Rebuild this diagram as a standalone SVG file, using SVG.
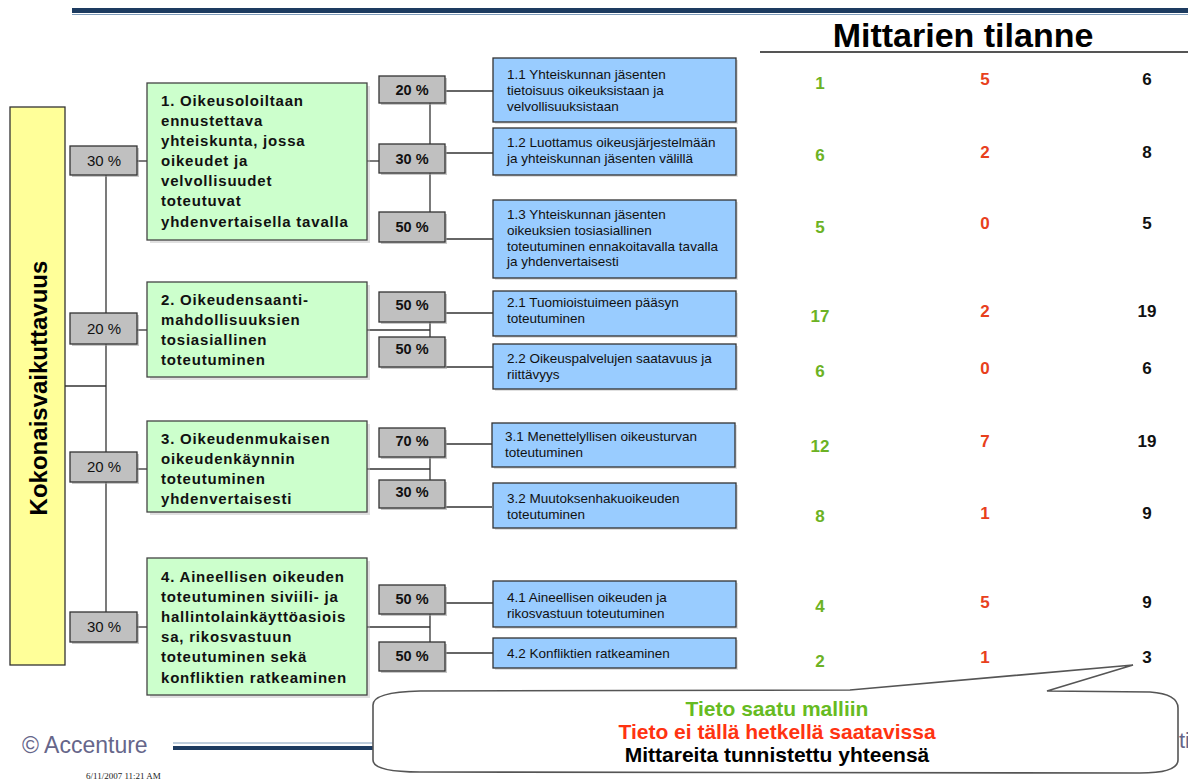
<svg xmlns="http://www.w3.org/2000/svg" width="1188" height="782" viewBox="0 0 1188 782">
<style>
text{font-family:"Liberation Sans",Arial,sans-serif}
.yel{fill:#ffff99;stroke:#333;stroke-width:1.3}
.grn{fill:#ccffcc;stroke:#444;stroke-width:1.3}
.blu{fill:#99ccff;stroke:#333;stroke-width:1.3}
.pct{fill:#c0c0c0;stroke:#333;stroke-width:1.3}
.sh{fill:#9a9a9a;opacity:0.55}
.shl{fill:#bbbbbb;opacity:0.45}
.gt{font-size:15px;font-weight:bold;letter-spacing:0.8px;fill:#111}
.bt{font-size:13.5px;fill:#111}
.pr{font-size:14.5px;font-weight:bold;text-anchor:middle;fill:#111}
.pl{font-size:15px;text-anchor:middle;fill:#111}
.con line{stroke:#333;stroke-width:1.3}
.n{font-size:17px;font-weight:bold;text-anchor:middle}
.ng{fill:#6cb224}
.nr{fill:#e8401c}
.nk{fill:#111}
.ct{font-size:21px;font-weight:bold;text-anchor:middle}
</style>

<!-- header rule -->
<rect x="72" y="8" width="1116" height="5" fill="#1d3b60"/>
<line x1="72" y1="14.5" x2="1188" y2="14.5" stroke="#7f9cba" stroke-width="1"/>

<!-- table header -->
<g id="header">
<text x="963" y="47" font-size="34" font-weight="bold" text-anchor="middle" fill="#000">Mittarien tilanne</text>
<line x1="760" y1="52" x2="1188" y2="52" stroke="#555" stroke-width="2"/>
</g>

<!-- connectors -->
<g id="connectors" class="con">
<line x1="65" y1="386" x2="106" y2="386"/>
<line x1="106" y1="175" x2="106" y2="313"/>
<line x1="106" y1="344" x2="106" y2="452"/>
<line x1="106" y1="482" x2="106" y2="612"/>
<line x1="137" y1="161" x2="147" y2="161"/>
<line x1="137" y1="330" x2="147" y2="330"/>
<line x1="137" y1="469" x2="147" y2="469"/>
<line x1="137" y1="627" x2="147" y2="627"/>
<line x1="367" y1="161" x2="380" y2="161"/>
<line x1="430" y1="103" x2="430" y2="144"/>
<line x1="430" y1="173" x2="430" y2="212"/>
<line x1="446" y1="91" x2="493" y2="91"/>
<line x1="446" y1="153" x2="493" y2="153"/>
<line x1="446" y1="239" x2="493" y2="239"/>
<line x1="367" y1="330" x2="430" y2="330"/>
<line x1="430" y1="322" x2="430" y2="337"/>
<line x1="446" y1="313" x2="493" y2="313"/>
<line x1="446" y1="367" x2="493" y2="367"/>
<line x1="367" y1="469" x2="430" y2="469"/>
<line x1="430" y1="457" x2="430" y2="480"/>
<line x1="446" y1="444" x2="492" y2="444"/>
<line x1="446" y1="507" x2="492" y2="507"/>
<line x1="367" y1="627" x2="430" y2="627"/>
<line x1="430" y1="614" x2="430" y2="642"/>
<line x1="446" y1="603" x2="493" y2="603"/>
<line x1="446" y1="653" x2="493" y2="653"/>
</g>

<!-- root -->
<g id="root">
<rect class="yel" x="10" y="107" width="55" height="558"/>
<text transform="translate(47,388) rotate(-90)" font-size="24" font-weight="bold" text-anchor="middle" fill="#000">Kokonaisvaikuttavuus</text>
</g>

<!-- left percentage boxes -->
<g id="p1"><rect class="sh" x="72" y="148" width="67" height="29"/><rect class="pct" x="70" y="146" width="67" height="29"/><text class="pl" x="104" y="166">30  %</text></g>
<g id="p2"><rect class="sh" x="72" y="315" width="67" height="31"/><rect class="pct" x="70" y="313" width="67" height="31"/><text class="pl" x="104" y="334">20  %</text></g>
<g id="p3"><rect class="sh" x="72" y="454" width="67" height="30"/><rect class="pct" x="70" y="452" width="67" height="30"/><text class="pl" x="104" y="472">20  %</text></g>
<g id="p4"><rect class="sh" x="72" y="614" width="67" height="30"/><rect class="pct" x="70" y="612" width="67" height="30"/><text class="pl" x="104" y="632">30  %</text></g>

<!-- green boxes -->
<g id="g1">
<rect class="shl" x="150" y="86" width="220" height="157"/>
<rect class="grn" x="147" y="83" width="220" height="157"/>
<text class="gt"><tspan x="161" y="106">1. Oikeusoloiltaan</tspan><tspan x="161" y="126">ennustettava</tspan><tspan x="161" y="146">yhteiskunta, jossa</tspan><tspan x="161" y="166">oikeudet ja</tspan><tspan x="161" y="186">velvollisuudet</tspan><tspan x="161" y="206">toteutuvat</tspan><tspan x="161" y="227">yhdenvertaisella tavalla</tspan></text>
</g>
<g id="g2">
<rect class="shl" x="150" y="285" width="220" height="95"/>
<rect class="grn" x="147" y="282" width="220" height="95"/>
<text class="gt"><tspan x="161" y="305">2. Oikeudensaanti-</tspan><tspan x="161" y="325">mahdollisuuksien</tspan><tspan x="161" y="345">tosiasiallinen</tspan><tspan x="161" y="365">toteutuminen</tspan></text>
</g>
<g id="g3">
<rect class="shl" x="150" y="424" width="220" height="91"/>
<rect class="grn" x="147" y="421" width="220" height="91"/>
<text class="gt"><tspan x="161" y="444">3. Oikeudenmukaisen</tspan><tspan x="161" y="464">oikeudenkäynnin</tspan><tspan x="161" y="484">toteutuminen</tspan><tspan x="161" y="504">yhdenvertaisesti</tspan></text>
</g>
<g id="g4">
<rect class="shl" x="150" y="561" width="220" height="137"/>
<rect class="grn" x="147" y="558" width="220" height="137"/>
<text class="gt"><tspan x="161" y="582">4. Aineellisen oikeuden</tspan><tspan x="161" y="602">toteutuminen siviili- ja</tspan><tspan x="161" y="622">hallintolainkäyttöasiois</tspan><tspan x="161" y="642">sa, rikosvastuun</tspan><tspan x="161" y="662">toteutuminen sekä</tspan><tspan x="161" y="683">konfliktien ratkeaminen</tspan></text>
</g>

<!-- right percentage boxes -->
<g id="p11"><rect class="sh" x="381" y="78" width="66" height="27"/><rect class="pct" x="379" y="76" width="66" height="27"/><text class="pr" x="412" y="95">20  %</text></g>
<g id="p12"><rect class="sh" x="381" y="146" width="66" height="29"/><rect class="pct" x="379" y="144" width="66" height="29"/><text class="pr" x="412" y="164">30  %</text></g>
<g id="p13"><rect class="sh" x="381" y="214" width="66" height="30"/><rect class="pct" x="379" y="212" width="66" height="30"/><text class="pr" x="412" y="232">50  %</text></g>
<g id="p21"><rect class="sh" x="381" y="294" width="66" height="30"/><rect class="pct" x="379" y="292" width="66" height="30"/><text class="pr" x="412" y="310">50  %</text></g>
<g id="p22"><rect class="sh" x="381" y="339" width="66" height="30"/><rect class="pct" x="379" y="337" width="66" height="30"/><text class="pr" x="412" y="354">50  %</text></g>
<g id="p31"><rect class="sh" x="381" y="430" width="66" height="29"/><rect class="pct" x="379" y="428" width="66" height="29"/><text class="pr" x="412" y="446">70  %</text></g>
<g id="p32"><rect class="sh" x="381" y="482" width="66" height="28"/><rect class="pct" x="379" y="480" width="66" height="28"/><text class="pr" x="412" y="497">30  %</text></g>
<g id="p41"><rect class="sh" x="381" y="587" width="66" height="29"/><rect class="pct" x="379" y="585" width="66" height="29"/><text class="pr" x="412" y="604">50  %</text></g>
<g id="p42"><rect class="sh" x="381" y="644" width="66" height="29"/><rect class="pct" x="379" y="642" width="66" height="29"/><text class="pr" x="412" y="661">50  %</text></g>

<!-- blue boxes -->
<g id="b11"><rect class="shl" x="495" y="60" width="243" height="64"/><rect class="blu" x="493" y="58" width="243" height="64"/>
<text class="bt"><tspan x="507" y="79">1.1 Yhteiskunnan jäsenten</tspan><tspan x="507" y="95">tietoisuus oikeuksistaan ja</tspan><tspan x="507" y="111">velvollisuuksistaan</tspan></text></g>
<g id="b12"><rect class="shl" x="495" y="130" width="243" height="47"/><rect class="blu" x="493" y="128" width="243" height="47"/>
<text class="bt"><tspan x="507" y="147">1.2 Luottamus oikeusjärjestelmään</tspan><tspan x="507" y="163">ja yhteiskunnan jäsenten välillä</tspan></text></g>
<g id="b13"><rect class="shl" x="495" y="202" width="243" height="78"/><rect class="blu" x="493" y="200" width="243" height="78"/>
<text class="bt"><tspan x="507" y="219">1.3 Yhteiskunnan jäsenten</tspan><tspan x="507" y="235">oikeuksien tosiasiallinen</tspan><tspan x="507" y="251">toteutuminen ennakoitavalla tavalla</tspan><tspan x="507" y="266">ja yhdenvertaisesti</tspan></text></g>
<g id="b21"><rect class="shl" x="495" y="293" width="243" height="45"/><rect class="blu" x="493" y="291" width="243" height="45"/>
<text class="bt"><tspan x="507" y="307">2.1 Tuomioistuimeen pääsyn</tspan><tspan x="507" y="323">toteutuminen</tspan></text></g>
<g id="b22"><rect class="shl" x="495" y="346" width="243" height="45"/><rect class="blu" x="493" y="344" width="243" height="45"/>
<text class="bt"><tspan x="507" y="363">2.2 Oikeuspalvelujen saatavuus ja</tspan><tspan x="507" y="379">riittävyys</tspan></text></g>
<g id="b31"><rect class="shl" x="494" y="425" width="243" height="44"/><rect class="blu" x="492" y="423" width="243" height="44"/>
<text class="bt"><tspan x="505" y="441">3.1 Menettelyllisen oikeusturvan</tspan><tspan x="505" y="457">toteutuminen</tspan></text></g>
<g id="b32"><rect class="shl" x="495" y="485" width="243" height="45"/><rect class="blu" x="493" y="483" width="243" height="45"/>
<text class="bt"><tspan x="507" y="503">3.2 Muutoksenhakuoikeuden</tspan><tspan x="507" y="519">toteutuminen</tspan></text></g>
<g id="b41"><rect class="shl" x="495" y="583" width="243" height="46"/><rect class="blu" x="493" y="581" width="243" height="46"/>
<text class="bt"><tspan x="507" y="602">4.1 Aineellisen oikeuden ja</tspan><tspan x="507" y="618">rikosvastuun toteutuminen</tspan></text></g>
<g id="b42"><rect class="shl" x="495" y="640" width="243" height="30"/><rect class="blu" x="493" y="638" width="243" height="30"/>
<text class="bt"><tspan x="507" y="658">4.2 Konfliktien ratkeaminen</tspan></text></g>

<!-- numbers -->
<g id="numbers">
<text class="n ng" x="820" y="89">1</text><text class="n nr" x="985" y="85">5</text><text class="n nk" x="1147" y="85">6</text>
<text class="n ng" x="820" y="161">6</text><text class="n nr" x="985" y="158">2</text><text class="n nk" x="1147" y="158">8</text>
<text class="n ng" x="820" y="233">5</text><text class="n nr" x="985" y="229">0</text><text class="n nk" x="1147" y="229">5</text>
<text class="n ng" x="820" y="322">17</text><text class="n nr" x="985" y="317">2</text><text class="n nk" x="1147" y="317">19</text>
<text class="n ng" x="820" y="377">6</text><text class="n nr" x="985" y="374">0</text><text class="n nk" x="1147" y="374">6</text>
<text class="n ng" x="820" y="452">12</text><text class="n nr" x="985" y="447">7</text><text class="n nk" x="1147" y="447">19</text>
<text class="n ng" x="820" y="522">8</text><text class="n nr" x="985" y="519">1</text><text class="n nk" x="1147" y="519">9</text>
<text class="n ng" x="820" y="612">4</text><text class="n nr" x="985" y="608">5</text><text class="n nk" x="1147" y="608">9</text>
<text class="n ng" x="820" y="667">2</text><text class="n nr" x="985" y="663">1</text><text class="n nk" x="1147" y="663">3</text>
</g>

<!-- footer -->
<g id="footer">
<text x="22" y="753" font-size="23" fill="#66668a">© Accenture</text>
<line x1="173" y1="743" x2="1178" y2="743" stroke="#7f9cba" stroke-width="1"/>
<rect x="173" y="746" width="1005" height="4" fill="#1d3b60"/>
<text x="1179" y="748" font-size="22" fill="#66668a">ti</text>
<text x="86" y="779" font-size="9" fill="#222" style="font-family:'Liberation Serif',serif">6/11/2007 11:21 AM</text>
</g>

<!-- callout -->
<g id="callout">
<path d="M 420,691 L 850,690 L 1133,665 L 1047,691 L 1150,692 Q 1178,694 1178,708 L 1178,760 Q 1178,773 1140,773 L 420,772 Q 373,772 373,760 L 373,705 Q 373,692 420,691 Z" fill="#fff" stroke="#555" stroke-width="1.6"/>
<text class="ct" x="777" y="716" fill="#66bb22">Tieto saatu malliin</text>
<text class="ct" x="777" y="739" fill="#ff3311">Tieto ei tällä hetkellä saatavissa</text>
<text class="ct" x="777" y="762" fill="#000">Mittareita tunnistettu yhteensä</text>
</g>
</svg>
